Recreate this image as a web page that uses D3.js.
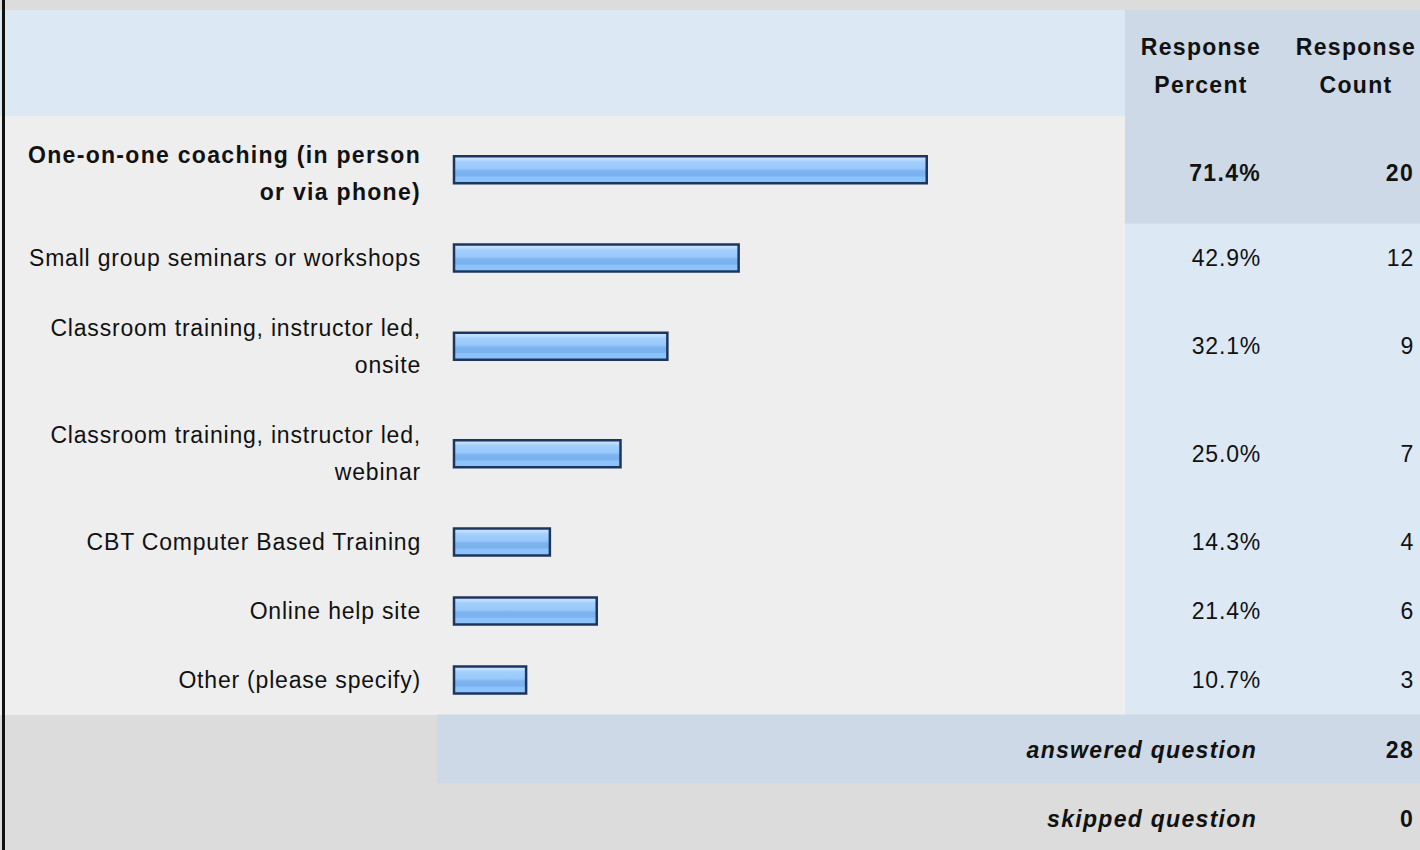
<!DOCTYPE html>
<html>
<head>
<meta charset="utf-8">
<script src="https://cdn.jsdelivr.net/npm/d3@7"></script>
<style>
  body { margin: 0; background: #dcdcdc; }
  svg text { font-family: "Liberation Sans", Arial, sans-serif; fill: #111; letter-spacing: 0.8px; }
  svg text.b { font-weight: bold; letter-spacing: 1.3px; }
</style>
</head>
<body>
<div id="chart"></div>
<script>
// survey answers, one line per visual line of the label
const answerLabels = [
  ["One-on-one coaching (in person", "or via phone)"],
  ["Small group seminars or workshops"],
  ["Classroom training, instructor led,", "onsite"],
  ["Classroom training, instructor led,", "webinar"],
  ["CBT Computer Based Training"],
  ["Online help site"],
  ["Other (please specify)"]
];
const responsePercent = [71.4, 42.9, 32.1, 25.0, 14.3, 21.4, 10.7];
const responseCount = [20, 12, 9, 7, 4, 6, 3];
const headerLabels = [["Response", "Percent"], ["Response", "Count"]];
const answeredCount = 28;
const skippedCount = 0;

const W = 1420, H = 850;
const fontSize = 23, lineGap = 37;
const singleH = 69, doubleH = 107.5;
const headerTop = 10, headerH = 106;
const colSplit = 1125;      // start of the percent/count columns
const barX0 = 453;

let svg = d3.select("#chart").append("svg")
    .attr("width", W).attr("height", H);

// bar gradient
let grad = svg.append("defs").append("linearGradient")
    .attr("id", "barGrad").attr("x1", 0).attr("y1", 0).attr("x2", 0).attr("y2", 1);
[[0, "#cfe6ff"], [0.12, "#bcdcfd"], [0.2, "#a3cffb"], [0.45, "#98c8fb"],
 [0.55, "#7db3ee"], [0.72, "#7ab1ee"], [0.78, "#8cc3fb"], [1, "#8cc3fb"]]
  .forEach(s => grad.append("stop").attr("offset", s[0]).attr("stop-color", s[1]));

svg.append("rect").attr("width", W).attr("height", H).attr("fill", "#dcdcdc");

// header row
svg.append("rect").attr("x", 0).attr("y", headerTop).attr("width", colSplit).attr("height", headerH).attr("fill", "#dde8f5");
svg.append("rect").attr("x", colSplit).attr("y", headerTop).attr("width", W - colSplit).attr("height", headerH).attr("fill", "#cdd9e6");

// row layout: each row height depends on how many lines the label takes
let rows = [];
let yPos = headerTop + headerH;
answerLabels.forEach((lines, i) => {
  let h = lines.length > 1 ? doubleH : singleH;
  rows.push({lines: lines, pct: responsePercent[i], count: responseCount[i], top: yPos, h: h, i: i});
  yPos += h;
});
const rowsBottom = yPos;

let x = d3.scaleLinear().domain([0, 100]).range([0, 660]);

// the top answer is highlighted (bold text sits a little lower)
const textY = d => d.top + d.h / 2 + (d.i === 0 ? 3.5 : 0);

let rowG = svg.selectAll(".row").data(rows).enter().append("g").attr("class", "row");
rowG.append("rect").attr("x", 0).attr("y", d => d.top).attr("width", colSplit).attr("height", d => d.h + 0.5).attr("fill", "#eeeeee");
rowG.append("rect").attr("x", colSplit).attr("y", d => d.top).attr("width", W - colSplit).attr("height", d => d.h + 0.5)
    .attr("fill", d => d.i === 0 ? "#cdd9e6" : "#dde8f5");

// labels
rowG.each(function(d) {
  let g = d3.select(this);
  let cy = textY(d);
  let n = d.lines.length;
  d.lines.forEach((t, k) => {
    g.append("text")
      .attr("class", d.i === 0 ? "b" : null)
      .attr("x", 421)
      .attr("y", cy + (k - (n - 1) / 2) * lineGap)
      .attr("dy", "0.35em")
      .attr("text-anchor", "end")
      .style("font-size", fontSize + "px")
      .text(t);
  });
});

// bars
rowG.append("rect")
    .attr("x", barX0 + 1)
    .attr("y", d => d.top + d.h / 2 - 13.5)
    .attr("width", d => x(d.pct) + 1.5)
    .attr("height", 27)
    .attr("fill", "url(#barGrad)")
    .attr("stroke", "#1c365e")
    .attr("stroke-width", 2.5);

rowG.append("text")
    .attr("class", d => d.i === 0 ? "b" : null)
    .attr("x", 1261).attr("y", textY).attr("dy", "0.35em")
    .attr("text-anchor", "end")
    .style("font-size", fontSize + "px")
    .text(d => d.pct.toFixed(1) + "%");

rowG.append("text")
    .attr("class", d => d.i === 0 ? "b" : null)
    .attr("x", 1414).attr("y", textY).attr("dy", "0.35em")
    .attr("text-anchor", "end")
    .style("font-size", fontSize + "px")
    .text(d => d.count);

// header text
const headerX = [1201, 1356];
headerLabels.forEach((lines, c) => {
  lines.forEach((t, k) => {
    svg.append("text")
      .attr("class", "b")
      .attr("x", headerX[c]).attr("y", 47 + k * 38).attr("dy", "0.35em")
      .attr("text-anchor", "middle")
      .style("font-size", fontSize + "px")
      .text(t);
  });
});

// summary rows
const summaryH = 69;
svg.append("rect").attr("x", 437).attr("y", rowsBottom).attr("width", W - 437).attr("height", summaryH).attr("fill", "#cdd9e6");
const summary = [["answered question", answeredCount], ["skipped question", skippedCount]];
summary.forEach((s, k) => {
  let cy = rowsBottom + summaryH * k + summaryH / 2 + 1;
  svg.append("text").attr("class", "b").attr("x", 1257).attr("y", cy).attr("dy", "0.35em")
    .attr("text-anchor", "end")
    .style("font-size", fontSize + "px").style("font-style", "italic")
    .text(s[0]);
  svg.append("text").attr("class", "b").attr("x", 1414).attr("y", cy).attr("dy", "0.35em")
    .attr("text-anchor", "end")
    .style("font-size", fontSize + "px")
    .text(s[1]);
});

// left border
svg.append("rect").attr("x", 2).attr("y", 0).attr("width", 3).attr("height", H).attr("fill", "#111");
</script>
</body>
</html>
